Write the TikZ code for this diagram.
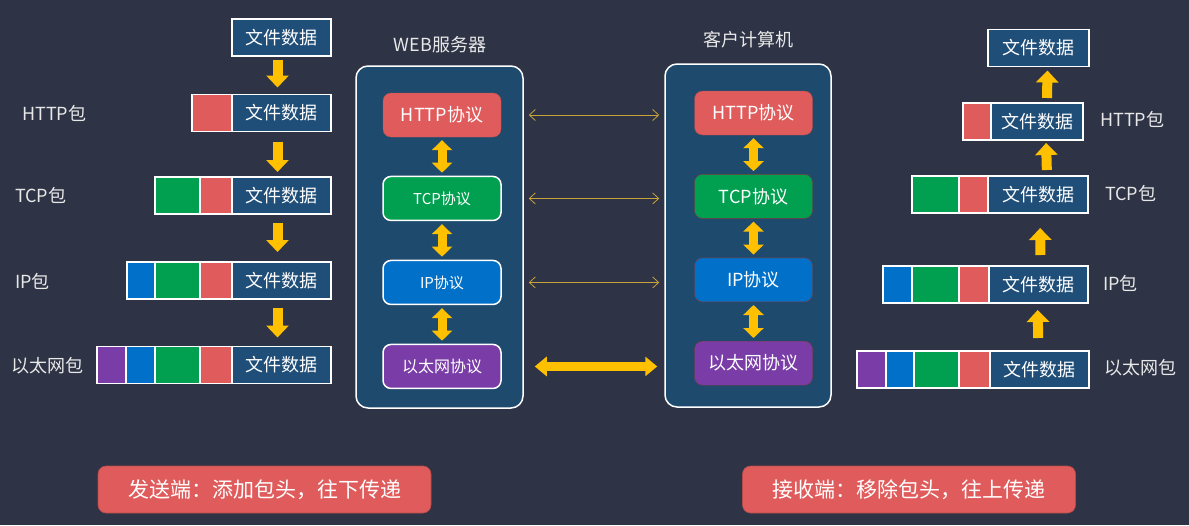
\documentclass[tikz,border=0pt]{standalone}
\usepackage{fontspec}
\setmainfont{Noto Sans CJK SC}
\usetikzlibrary{positioning,arrows.meta}
\definecolor{bgcol}{HTML}{2E3446}
\definecolor{datblue}{HTML}{1F4E79}
\definecolor{hostblue}{HTML}{1E4A6E}
\definecolor{cred}{HTML}{E05C5C}
\definecolor{cgreen}{HTML}{00A050}
\definecolor{cblue}{HTML}{0070C8}
\definecolor{cpurple}{HTML}{7A3DA8}
\definecolor{arryel}{HTML}{FFC000}
\definecolor{linkgold}{HTML}{C9A23A}
\definecolor{lbl}{HTML}{E8E8E8}

\begin{document}
\begin{tikzpicture}[x=1pt,y=-1pt,
  datbox/.style={draw=white, line width=1.2pt, fill=datblue, text=white, minimum height=37pt, inner sep=0pt, outer sep=0pt, font=\fontsize{18}{18}\selectfont},
  hdr/.style={draw=white, line width=1.2pt, minimum height=37pt, inner sep=0pt, outer sep=0pt},
  pktlabel/.style={text=lbl, anchor=west, inner sep=0pt, font=\fontsize{18}{18}\selectfont},
  host/.style={draw=white, line width=1.5pt, fill=hostblue, rounded corners=12pt},
  hostname/.style={text=lbl, font=\fontsize{18}{18}\selectfont},
  layer/.style={rounded corners=8pt, minimum width=118pt, minimum height=44pt, inner sep=0pt, text=white},
  downarr/.style={draw=arryel, line width=10pt, -{Triangle[width=22pt,length=12pt]}},
  dblarr/.style={draw=arryel, line width=9pt, {Triangle[width=20pt,length=10pt]}-{Triangle[width=20pt,length=10pt]}, shorten <=3pt, shorten >=3pt},
  thinlink/.style={draw=linkgold, line width=0.8pt, {Straight Barb[length=6pt,width=11pt]}-{Straight Barb[length=6pt,width=11pt]}, shorten <=5pt, shorten >=5pt},
  ethlink/.style={draw=arryel, line width=9pt, {Triangle[width=19pt,length=12pt]}-{Triangle[width=19pt,length=12pt]}},
  note/.style={fill=cred, draw=cred!80!black, line width=0.6pt, rounded corners=8pt, minimum width=333pt, minimum height=47pt, text=white, font=\fontsize{21}{21}\selectfont}]

\fill[bgcol] (0,0) rectangle (1189,525);
\useasboundingbox (0,0) rectangle (1189,525);

% hosts
\node[host, minimum width=167pt, minimum height=342pt] (srv) at (439.5,237) {};
\node[host, minimum width=166pt, minimum height=343pt] (cli) at (748,235.5) {};
\node[hostname] (srvname) at (440,45) {WEB服务器};
\node[hostname] (cliname) at (748,40) {客户计算机};

% server layers
\node[layer, fill=cred, draw=cred!85!black, font=\fontsize{18}{18}\selectfont] (sh) at (442,115) {HTTP协议};
\node[layer, fill=cgreen, draw=white, line width=1.5pt, font=\fontsize{15}{15}\selectfont] (st) [below=38.5pt of sh] {TCP协议};
\node[layer, fill=cblue, draw=white, line width=1.5pt, font=\fontsize{15}{15}\selectfont] (si) [below=38.5pt of st] {IP协议};
\node[layer, fill=cpurple, draw=white, line width=1.5pt, font=\fontsize{16}{16}\selectfont] (se) [below=38.5pt of si] {以太网协议};

% client layers
\node[layer, fill=cred, draw=cred!75!black, font=\fontsize{18}{18}\selectfont] (ch) at (753.5,113) {HTTP协议};
\node[layer, fill=cgreen, draw=cred!60!black, font=\fontsize{18}{18}\selectfont] (ct) [below=39pt of ch] {TCP协议};
\node[layer, fill=cblue, draw=cred!60!black, font=\fontsize{18}{18}\selectfont] (ci) [below=39pt of ct] {IP协议};
\node[layer, fill=cpurple, draw=cred!60!black, font=\fontsize{18}{18}\selectfont] (ce) [below=39pt of ci] {以太网协议};

\draw[dblarr] (sh) -- (st);
\draw[dblarr] (st) -- (si);
\draw[dblarr] (si) -- (se);
\draw[dblarr] (ch) -- (ct);
\draw[dblarr] (ct) -- (ci);
\draw[dblarr] (ci) -- (ce);

% peer links
\draw[thinlink] (sh.east -| srv.east) -- (sh.east -| cli.west);
\draw[thinlink] (st.east -| srv.east) -- (st.east -| cli.west);
\draw[thinlink] (si.east -| srv.east) -- (si.east -| cli.west);
\draw[ethlink, shorten <=11pt, shorten >=7pt] (se.east -| srv.east) -- (se.east -| cli.west);

% sender side
\node[datbox, minimum width=99pt] (sdat0) at (281.5,37.5) {文件数据};
\node[datbox, minimum width=99pt] (sdat1) at (281.5,113) {文件数据};
\node[hdr, fill=cred, minimum width=40pt] (shttp1) [left=0pt of sdat1] {};
\node[datbox, minimum width=99pt] (sdat2) at (281.5,195.5) {文件数据};
\node[hdr, fill=cred, minimum width=32pt] (shttp2) [left=0pt of sdat2] {};
\node[hdr, fill=cgreen, minimum width=45pt] (stcp2) [left=0pt of shttp2] {};
\node[datbox, minimum width=99pt] (sdat3) at (281.5,280.5) {文件数据};
\node[hdr, fill=cred, minimum width=32pt] (shttp3) [left=0pt of sdat3] {};
\node[hdr, fill=cgreen, minimum width=45pt] (stcp3) [left=0pt of shttp3] {};
\node[hdr, fill=cblue, minimum width=28pt] (sip3) [left=0pt of stcp3] {};
\node[datbox, minimum width=99pt] (sdat4) at (281.5,365) {文件数据};
\node[hdr, fill=cred, minimum width=32pt] (shttp4) [left=0pt of sdat4] {};
\node[hdr, fill=cgreen, minimum width=45pt] (stcp4) [left=0pt of shttp4] {};
\node[hdr, fill=cblue, minimum width=29pt] (sip4) [left=0pt of stcp4] {};
\node[hdr, fill=cpurple, minimum width=29pt] (seth4) [left=0pt of sip4] {};

\node[pktlabel] (slbl1) at (22,113) {HTTP包};
\node[pktlabel] (slbl2) at (15,195) {TCP包};
\node[pktlabel] (slbl3) at (15,281) {IP包};
\node[pktlabel] (slbl4) at (11,366) {以太网包};

\draw[downarr, shorten <=4pt, shorten >=7pt] ([xshift=-4pt]sdat0.south) -- ([xshift=-4pt]sdat1.north);
\draw[downarr, shorten <=10pt, shorten >=5pt] ([xshift=-4pt]sdat1.south) -- ([xshift=-4pt]sdat2.north);
\draw[downarr, shorten <=9pt, shorten >=10pt] ([xshift=-4pt]sdat2.south) -- ([xshift=-4pt]sdat3.north);
\draw[downarr, shorten <=9pt, shorten >=9pt] ([xshift=-4pt]sdat3.south) -- ([xshift=-4pt]sdat4.north);

% receiver side
\node[datbox, minimum width=101pt] (rdat0) at (1038.5,48) {文件数据};
\node[datbox, minimum width=92pt] (rdat1) at (1037,121.5) {文件数据};
\node[hdr, fill=cred, minimum width=28pt] (rhttp1) [left=0pt of rdat1] {};
\node[datbox, minimum width=100pt] (rdat2) at (1038,194.5) {文件数据};
\node[hdr, fill=cred, minimum width=29pt] (rhttp2) [left=0pt of rdat2] {};
\node[hdr, fill=cgreen, minimum width=47pt] (rtcp2) [left=0pt of rhttp2] {};
\node[datbox, minimum width=99pt] (rdat3) at (1038.5,284.5) {文件数据};
\node[hdr, fill=cred, minimum width=30pt] (rhttp3) [left=0pt of rdat3] {};
\node[hdr, fill=cgreen, minimum width=47pt] (rtcp3) [left=0pt of rhttp3] {};
\node[hdr, fill=cblue, minimum width=29pt] (rip3) [left=0pt of rtcp3] {};
\node[datbox, minimum width=99pt] (rdat4) at (1039.5,369.5) {文件数据};
\node[hdr, fill=cred, minimum width=31pt] (rhttp4) [left=0pt of rdat4] {};
\node[hdr, fill=cgreen, minimum width=45pt] (rtcp4) [left=0pt of rhttp4] {};
\node[hdr, fill=cblue, minimum width=28pt] (rip4) [left=0pt of rtcp4] {};
\node[hdr, fill=cpurple, minimum width=29pt] (reth4) [left=0pt of rip4] {};

\node[pktlabel] (rlbl1) at (1100,119) {HTTP包};
\node[pktlabel] (rlbl2) at (1105,193) {TCP包};
\node[pktlabel] (rlbl3) at (1103,283) {IP包};
\node[pktlabel] (rlbl4) at (1104,368) {以太网包};

\draw[downarr, shorten <=5pt, shorten >=4pt] ([xshift=10pt]rdat1.north) -- ([xshift=9pt]rdat0.south);
\draw[downarr, shorten <=6pt, shorten >=3pt] ([xshift=9pt]rdat2.north) -- ([xshift=9pt]rdat1.south);
\draw[downarr, shorten <=11pt, shorten >=15pt] ([xshift=2pt]rdat3.north) -- ([xshift=2pt]rdat2.south);
\draw[downarr, shorten <=13pt, shorten >=7pt] ([xshift=-1pt]rdat4.north) -- ([xshift=-1pt]rdat3.south);

% notes
\node[note] (sendnote) at (264.5,489.5) {发送端：添加包头，往下传递};
\node[note] (recvnote) at (909,489.5) {接收端：移除包头，往上传递};

\end{tikzpicture}
\end{document}
